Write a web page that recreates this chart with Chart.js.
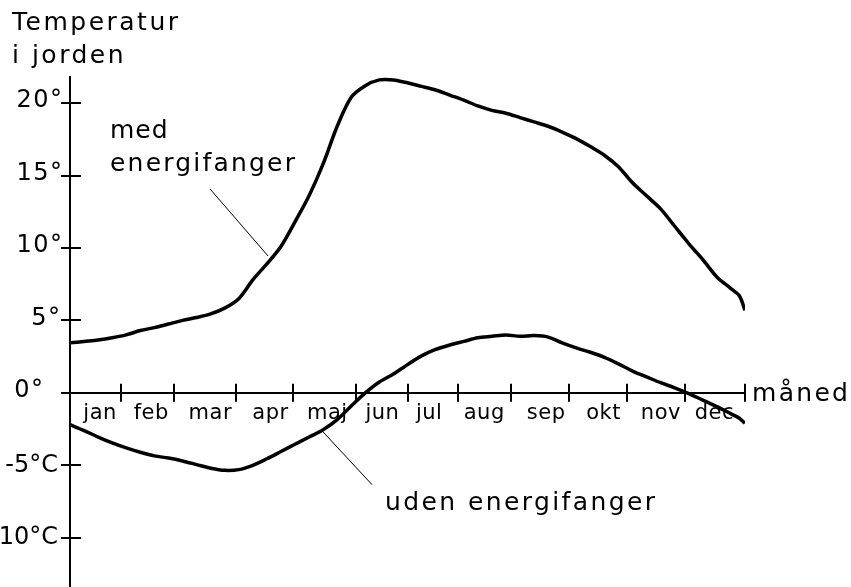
<!DOCTYPE html>
<html>
<head>
<meta charset="utf-8">
<script src="https://cdn.jsdelivr.net/npm/chart.js@4.4.1/dist/chart.umd.min.js"></script>
<style>
  html, body { margin: 0; padding: 0; background: #fff; }
</style>
</head>
<body>
<canvas id="chart" width="851" height="587"></canvas>
<script>
// positions along the year, in months (0 = 1 jan, 12 = 31 dec)
var positions = [0, 0.25, 0.5, 0.75, 1, 1.25, 1.5, 1.75, 2, 2.25, 2.5, 2.75, 3, 3.25, 3.5, 3.75,
  4, 4.25, 4.5, 4.75, 5, 5.25, 5.5, 5.75, 6, 6.25, 6.5, 6.75, 7, 7.25, 7.5, 7.75,
  8, 8.25, 8.5, 8.75, 9, 9.25, 9.5, 9.75, 10, 10.25, 10.5, 10.75, 11, 11.25, 11.5, 11.75, 11.9, 12];

// temperatur med energifanger
var medValues = [3.45, 3.55, 3.65, 3.8, 4.0, 4.3, 4.5, 4.75, 5.0, 5.2, 5.45, 5.85, 6.5, 7.8, 8.9, 10.1,
  11.8, 13.6, 15.8, 18.4, 20.4, 21.2, 21.6, 21.6, 21.4, 21.15, 20.9, 20.55, 20.2, 19.8, 19.5, 19.3,
  19.0, 18.7, 18.4, 18.0, 17.55, 17.0, 16.4, 15.6, 14.5, 13.6, 12.7, 11.5, 10.3, 9.2, 8.0, 7.2, 6.7, 5.7];

// temperatur uden energifanger
var udenValues = [-2.2, -2.6, -3.05, -3.45, -3.8, -4.1, -4.35, -4.5, -4.7, -4.95, -5.2, -5.35, -5.3, -5.0, -4.55, -4.05,
  -3.55, -3.05, -2.55, -1.85, -0.9, 0.0, 0.75, 1.3, 1.95, 2.55, 3.0, 3.3, 3.55, 3.8, 3.9, 4.0,
  3.9, 3.95, 3.85, 3.45, 3.1, 2.8, 2.45, 2.0, 1.5, 1.1, 0.7, 0.35, -0.05, -0.5, -0.95, -1.45, -1.75, -2.1];

var monthNames = ['jan', 'feb', 'mar', 'apr', 'maj', 'jun', 'jul', 'aug', 'sep', 'okt', 'nov', 'dec'];
var monthLabelPos = [0.53, 1.44, 2.49, 3.56, 4.57, 5.55, 6.38, 7.36, 8.46, 9.48, 10.5, 11.45];
var monthBounds = [0.907, 1.849, 2.951, 3.964, 5.084, 6.009, 6.898, 7.84, 8.871, 9.902, 10.93, 12];

var yTicks = [-10, -5, 0, 5, 10, 15, 20];
var yLabels = ['10°C', '-5°C', '0°', '5°', '10°', '15°', '20°'];

// leader lines from the texts to the curves [x1, y1, x2, y2]
var medLeader = [2.49, 14.07, 3.52, 9.45];
var udenLeader = [4.5, -2.7, 5.37, -6.34];

function points(xs, ys) {
  return xs.map(function(x, i) { return { x: x, y: ys[i] }; });
}

// canvas puts the letter spacing after every glyph, so right aligned text is moved back by it
function text(ctx, str, x, y, size, spacing, align, baseline) {
  ctx.font = size + 'px "DejaVu Sans"';
  ctx.letterSpacing = spacing + 'px';
  ctx.textAlign = align || 'left';
  ctx.textBaseline = baseline || 'alphabetic';
  if (align === 'right') x += spacing;
  if (align === 'center') x += spacing / 2;
  ctx.fillText(str, x, y);
}

var decorations = {
  id: 'decorations',
  beforeDatasetsDraw: function(chart) {
    var ctx = chart.ctx;
    var xs = chart.scales.x, ys = chart.scales.y;
    var x0 = xs.getPixelForValue(0), y0 = ys.getPixelForValue(0);
    ctx.save();
    ctx.strokeStyle = '#000';
    ctx.fillStyle = '#000';
    ctx.lineWidth = 2;
    ctx.beginPath();
    monthBounds.forEach(function(m) {
      var px = Math.round(xs.getPixelForValue(m));
      ctx.moveTo(px, y0 - 9);
      ctx.lineTo(px, y0 + 9);
    });
    yTicks.forEach(function(v) {
      var py = Math.round(ys.getPixelForValue(v));
      ctx.moveTo(x0 - 9, py);
      ctx.lineTo(x0 + 11, py);
    });
    ctx.stroke();

    monthNames.forEach(function(name, i) {
      text(ctx, name, xs.getPixelForValue(monthLabelPos[i]), y0 + 10, 21, 0.5, 'center', 'top');
    });
    yTicks.forEach(function(v, i) {
      var py = ys.getPixelForValue(v);
      if (v < 0) {
        text(ctx, yLabels[i], 58, py, 24, 0, 'right', 'middle');
      } else {
        text(ctx, yLabels[i], v === 0 ? 43 : (v === 5 ? 60 : 62), py - 2, 24, 1.5, 'right', 'middle');
      }
    });

    text(ctx, 'Temperatur', 12, 30, 25, 2.5);
    text(ctx, 'i jorden', 12, 63, 25, 2.5);
    text(ctx, 'med', 110, 138, 25, 1);
    text(ctx, 'energifanger', 110, 171, 25, 2.2);
    text(ctx, 'uden energifanger', 385, 510, 25, 2.4);
    text(ctx, 'måned', xs.getPixelForValue(12) + 7, y0 + 8, 25, 2.3);
    ctx.restore();
  }
};

new Chart(document.getElementById('chart'), {
  type: 'line',
  data: {
    datasets: [{
      label: 'med energifanger',
      data: points(positions, medValues),
      borderColor: '#000',
      borderWidth: 3.5,
      tension: 0.3
    }, {
      label: 'uden energifanger',
      data: points(positions, udenValues),
      borderColor: '#000',
      borderWidth: 3.5,
      tension: 0.3
    }, {
      label: 'pil med',
      data: [{ x: medLeader[0], y: medLeader[1] }, { x: medLeader[2], y: medLeader[3] }],
      borderColor: '#000',
      borderWidth: 1
    }, {
      label: 'pil uden',
      data: [{ x: udenLeader[0], y: udenLeader[1] }, { x: udenLeader[2], y: udenLeader[3] }],
      borderColor: '#000',
      borderWidth: 1
    }]
  },
  options: {
    responsive: false,
    animation: false,
    events: [],
    layout: { padding: { left: 0, top: 77, right: 106, bottom: 0 } },
    elements: { point: { radius: 0 } },
    plugins: { legend: { display: false }, tooltip: { enabled: false } },
    scales: {
      x: {
        type: 'linear',
        min: 0,
        max: 12,
        position: { y: 0 },
        ticks: { display: false },
        grid: { display: false },
        border: { display: true, color: '#000', width: 2 }
      },
      y: {
        type: 'linear',
        min: -13.4,
        max: 21.8,
        ticks: { display: false },
        grid: { display: false },
        border: { display: true, color: '#000', width: 2 },
        afterFit: function(scale) { scale.width = 70; }
      }
    }
  },
  plugins: [decorations]
});
</script>
</body>
</html>
